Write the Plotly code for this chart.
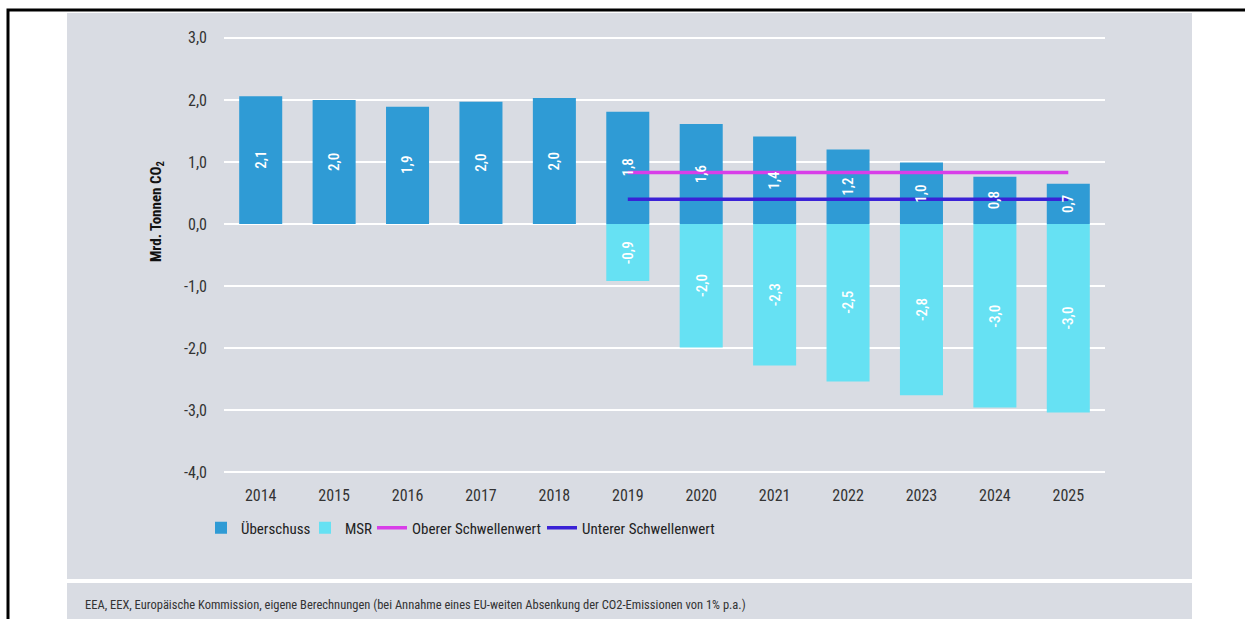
import plotly.graph_objects as go

years = ["2014", "2015", "2016", "2017", "2018", "2019", "2020", "2021", "2022", "2023", "2024", "2025"]
ueberschuss = [2.06, 2.00, 1.89, 1.97, 2.03, 1.81, 1.61, 1.41, 1.20, 0.99, 0.76, 0.65]
ueberschuss_labels = ["2,1", "2,0", "1,9", "2,0", "2,0", "1,8", "1,6", "1,4", "1,2", "1,0", "0,8", "0,7"]
msr_years = ["2019", "2020", "2021", "2022", "2023", "2024", "2025"]
msr = [-0.92, -1.99, -2.28, -2.54, -2.76, -2.96, -3.04]
msr_labels = ["-0,9", "-2,0", "-2,3", "-2,5", "-2,8", "-3,0", "-3,0"]
oberer = [0.83] * 7
unterer = [0.40] * 7
y_ticks = [3, 2, 1, 0, -1, -2, -3, -4]
y_tick_labels = ["3,0", "2,0", "1,0", "0,0", "-1,0", "-2,0", "-3,0", "-4,0"]

FONT = "Roboto Condensed, Roboto, sans-serif"
W, H = 1245, 619
ML, MR, MT, MB = 224, 140, 36, 145
PW, PH = W - ML - MR, H - MT - MB


def px(x):
    return (x - ML) / PW


def py(y):
    return (H - MB - y) / PH


fig = go.Figure()
fig.add_trace(go.Bar(
    x=years, y=ueberschuss, name="Überschuss", marker_color="#2f9bd5",
    marker_line_width=0, legend="legend",
))
fig.add_trace(go.Bar(
    x=msr_years, y=msr, name="MSR", marker_color="#66e1f3",
    marker_line_width=0, legend="legend2",
))
fig.add_trace(go.Scatter(
    x=msr_years, y=oberer, name="Oberer Schwellenwert", mode="lines",
    line=dict(color="#d83ee8", width=3.5), legend="legend3",
))
fig.add_trace(go.Scatter(
    x=msr_years, y=unterer, name="Unterer Schwellenwert", mode="lines",
    line=dict(color="#3a22d6", width=3.5), legend="legend4",
))

shapes = [
    dict(type="rect", xref="paper", yref="paper", x0=px(67), x1=px(1192), y0=py(13), y1=py(579),
         fillcolor="#d9dce3", line_width=0, layer="below"),
    dict(type="rect", xref="paper", yref="paper", x0=px(67), x1=px(1192), y0=py(583), y1=py(625),
         fillcolor="#d9dce3", line_width=0, layer="below"),
    dict(type="rect", xref="paper", yref="paper", x0=px(8), x1=px(1270), y0=py(10), y1=py(650),
         fillcolor="rgba(0,0,0,0)", line=dict(color="black", width=3)),
]

label_font = dict(size=15, color="white", family=FONT, weight=500)
annotations = []
for yr, v, lab in zip(years, ueberschuss, ueberschuss_labels):
    annotations.append(dict(x=years.index(yr), y=v / 2, xref="x", yref="y", text=lab, textangle=-90,
                            showarrow=False, xanchor="center", yanchor="middle", font=label_font))
for yr, v, lab in zip(msr_years, msr, msr_labels):
    annotations.append(dict(x=years.index(yr), y=v / 2, xref="x", yref="y", text=lab, textangle=-90,
                            showarrow=False, xanchor="center", yanchor="middle", font=label_font))

annotations += [
    dict(text="Mrd. Tonnen CO<sub>2</sub>", xref="paper", yref="paper", x=px(157), y=py(212),
         textangle=-90, showarrow=False, xanchor="center", yanchor="middle",
         font=dict(size=15, color="#111", family=FONT, weight="bold")),
    dict(text="EEA, EEX, Europäische Kommission, eigene Berechnungen (bei Annahme eines EU-weiten Absenkung der CO2-Emissionen von 1% p.a.)",
         xref="paper", yref="paper", x=px(83), y=py(604), showarrow=False,
         xanchor="left", yanchor="middle", font=dict(size=12.5, color="#333", family=FONT)),
]


def leg(xpix):
    return dict(orientation="h", x=px(xpix), y=py(528), xanchor="left", yanchor="middle",
                font=dict(size=15, color="#222", family=FONT), bgcolor="rgba(0,0,0,0)",
                itemwidth=30)


fig.update_layout(
    width=W, height=H,
    margin=dict(l=ML, r=MR, t=MT, b=MB),
    paper_bgcolor="white", plot_bgcolor="rgba(0,0,0,0)",
    barmode="relative", bargap=0.414,
    separators=",.",
    font=dict(family=FONT, color="#333", size=15),
    shapes=shapes, annotations=annotations,
    showlegend=True,
    legend=leg(201), legend2=leg(305), legend3=leg(372), legend4=leg(542),
    xaxis=dict(type="category", range=[-0.5, 11.5], showgrid=False, showline=False,
               ticks="", ticklabelstandoff=10, tickfont=dict(size=16, color="#333")),
    yaxis=dict(range=[-4.03, 3.03], tickvals=y_ticks, ticktext=y_tick_labels,
               showgrid=True, gridcolor="white", gridwidth=2,
               zeroline=True, zerolinecolor="white", zerolinewidth=2,
               showline=False, ticks="", ticklabelstandoff=16,
               tickfont=dict(size=16, color="#333")),
)

fig.write_html("out.html", config={"displayModeBar": False})
